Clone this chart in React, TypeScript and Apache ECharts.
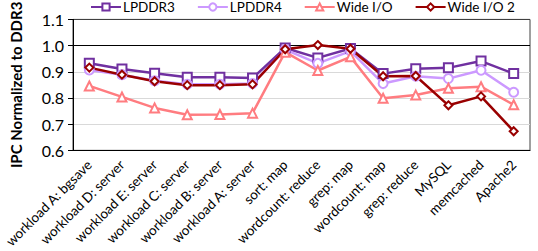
import React, { useEffect, useRef } from "react";
import * as echarts from "echarts";

const categories = [
  "workload A: bgsave",
  "workload D: server",
  "workload E: server",
  "workload C: server",
  "workload B: server",
  "workload A: server",
  "sort: map",
  "wordcount: reduce",
  "grep: map",
  "wordcount: map",
  "grep: reduce",
  "MySQL",
  "memcached",
  "Apache2",
];

const lpddr3 = [0.933, 0.911, 0.894, 0.879, 0.879, 0.876, 0.991, 0.953, 0.989, 0.893, 0.912, 0.915, 0.941, 0.893];
const lpddr4 = [0.907, 0.889, 0.866, 0.852, 0.852, 0.855, 0.985, 0.932, 0.979, 0.855, 0.883, 0.874, 0.906, 0.822];
const wideIO = [0.846, 0.804, 0.762, 0.736, 0.737, 0.742, 0.975, 0.905, 0.957, 0.799, 0.811, 0.837, 0.843, 0.774];
const wideIO2 = [0.916, 0.889, 0.864, 0.849, 0.849, 0.852, 0.986, 1.002, 0.988, 0.883, 0.884, 0.772, 0.806, 0.673];

const FONT = "Lato, 'Open Sans', sans-serif";

export default function App() {
  const ref = useRef<HTMLDivElement>(null);
  useEffect(() => {
    if (!ref.current) return;
    const chart = echarts.init(ref.current, null, { renderer: "svg" });
    const mk = (name: string, data: number[], color: string, symbol: string, size: number) => ({
      name,
      type: "line",
      data,
      symbol,
      symbolSize: size,
      lineStyle: { color, width: 2.5 },
      itemStyle: { color, borderColor: color, borderWidth: 1.8 },
    });
    chart.setOption({
      animation: false,
      textStyle: { fontFamily: FONT },
      legend: {
        top: 0,
        left: 90,
        width: 448,
        padding: 0,
        itemGap: 22,
        itemWidth: 30,
        itemHeight: 9,
        textStyle: { fontSize: 13.5, color: "#000", fontFamily: FONT, padding: [0, 0, 0, -3] },
        data: ["LPDDR3", "LPDDR4", "Wide I/O", "Wide I/O 2"],
      },
      grid: {
        left: 64,
        right: 8,
        top: 18,
        bottom: 98,
        show: true,
        borderColor: "#404040",
        borderWidth: 1,
        containLabel: false,
      },
      xAxis: {
        type: "category",
        data: categories,
        boundaryGap: true,
        axisLine: { lineStyle: { color: "#000", width: 1 } },
        axisTick: { alignWithLabel: true, length: 5, lineStyle: { color: "#000" } },
        axisLabel: {
          rotate: 45,
          fontSize: 13.5,
          color: "#000",
          fontFamily: FONT,
          margin: 12,
          interval: 0,
        },
      },
      yAxis: {
        type: "value",
        min: 0.6,
        max: 1.1,
        interval: 0.1,
        name: "IPC Normalized to DDR3",
        nameLocation: "middle",
        nameGap: 50,
        nameTextStyle: { fontSize: 15, fontWeight: "bold", color: "#000", fontFamily: FONT },
        axisLine: { show: true, lineStyle: { color: "#000" } },
        axisTick: { show: true, length: 5, lineStyle: { color: "#000" } },
        axisLabel: {
          fontSize: 16,
          color: "#000",
          fontFamily: FONT,
          margin: 9,
          formatter: (v: number) => v.toFixed(1),
        },
        splitLine: {
          show: true,
          lineStyle: {
            color: ["#d9d9d9", "#d9d9d9", "#d9d9d9", "#d9d9d9", "#000000", "#404040"],
            width: 1,
          },
        },
      },
      series: [
        mk("LPDDR3", lpddr3, "#7030A0", "emptyRect", 9),
        mk("LPDDR4", lpddr4, "#CC99FF", "emptyCircle", 9),
        mk("Wide I/O", wideIO, "#FF7C80", "emptyTriangle", 9),
        mk("Wide I/O 2", wideIO2, "#990000", "emptyDiamond", 8),
      ],
    });
    return () => chart.dispose();
  }, []);
  return (
    <div
      ref={ref}
      style={{ position: "absolute", left: 0, top: 0, width: 538, height: 251 }}
    />
  );
}
